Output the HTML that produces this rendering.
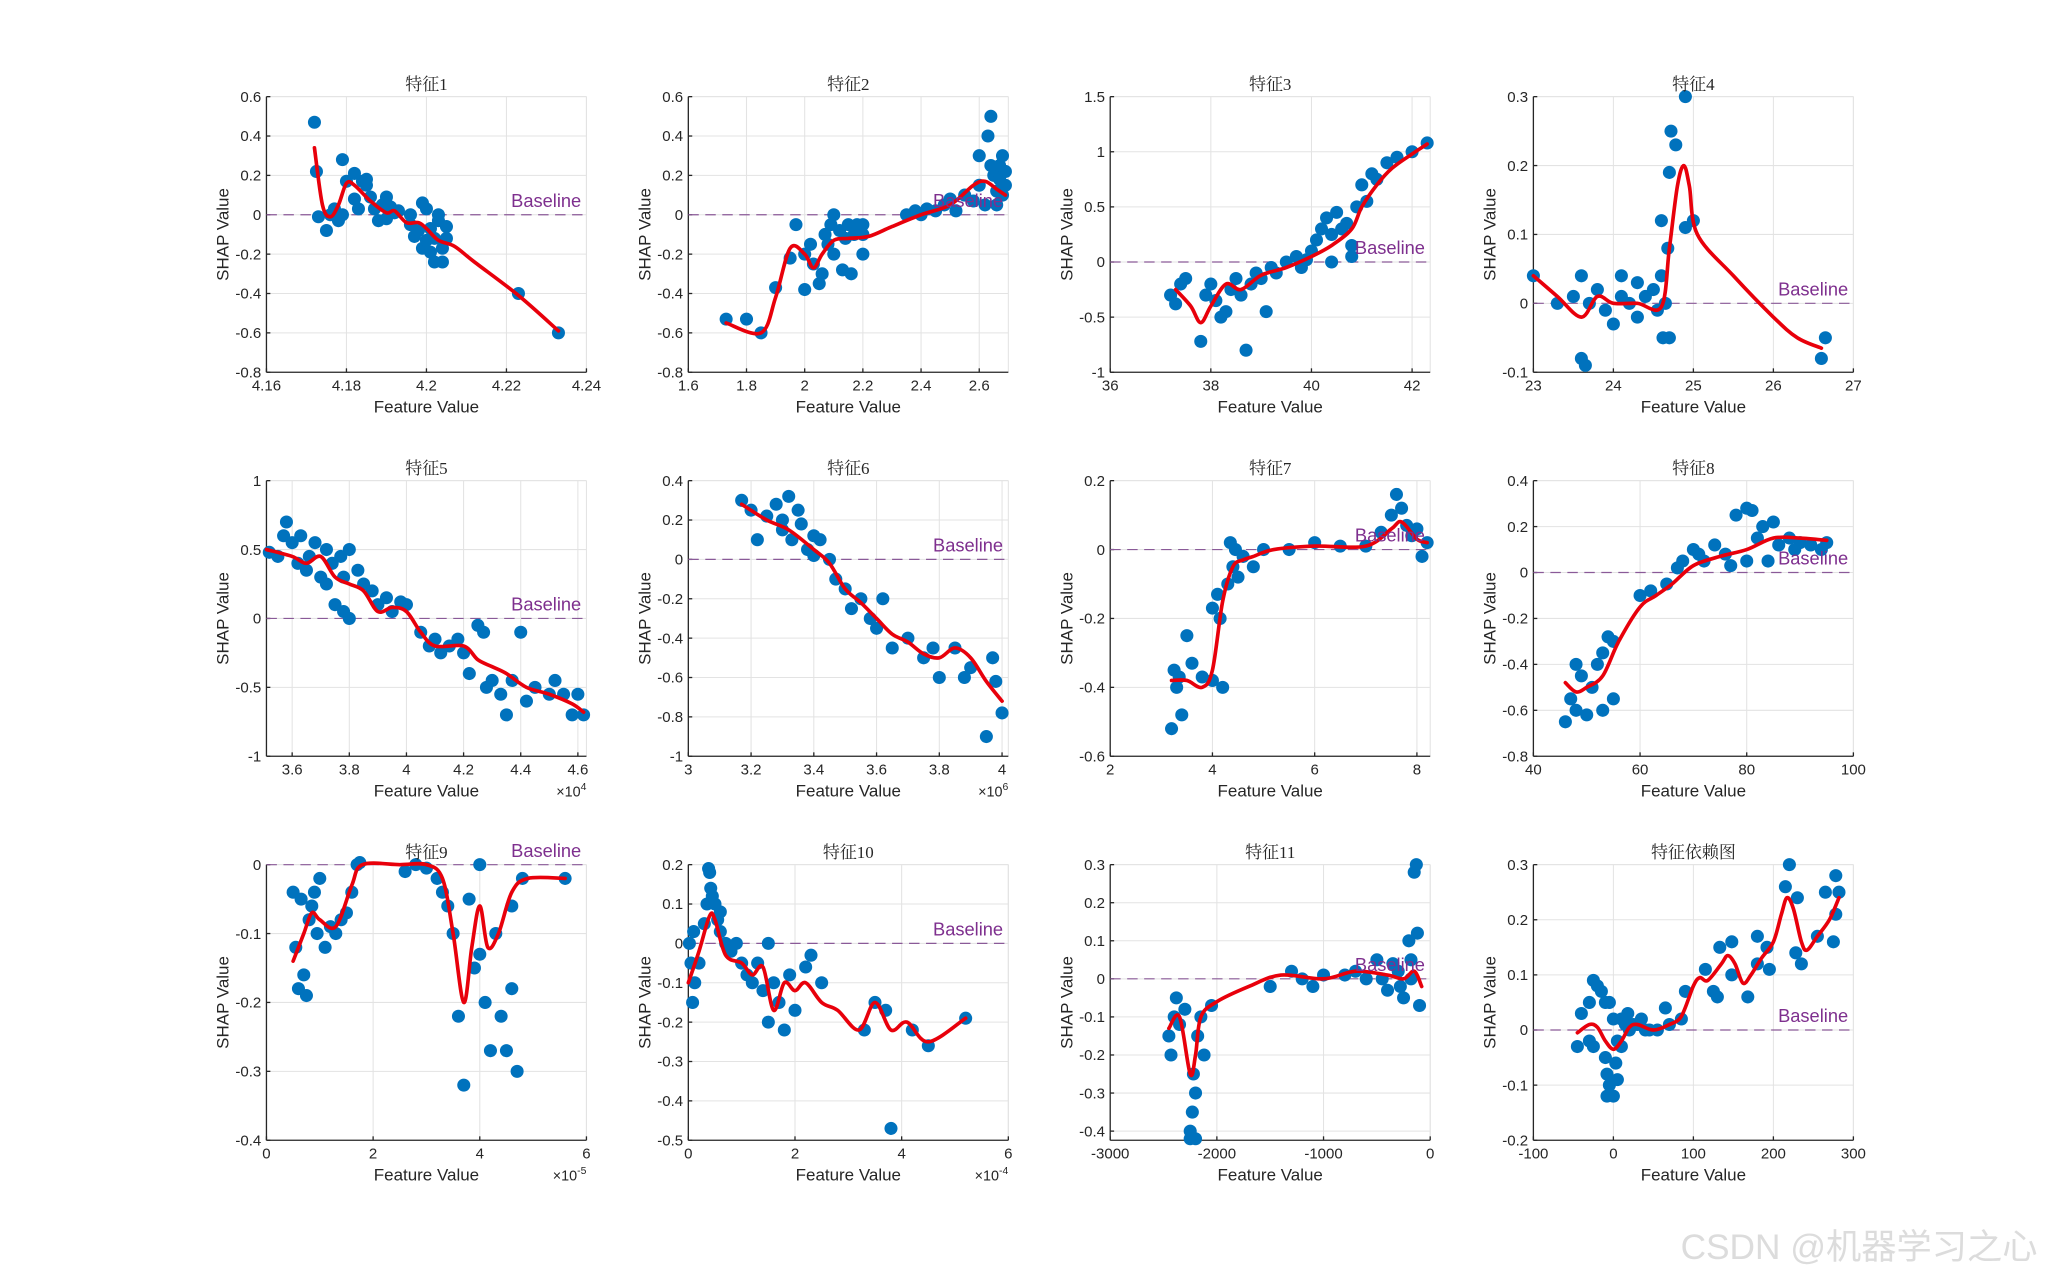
<!DOCTYPE html>
<html><head><meta charset="utf-8"><style>
html,body{margin:0;padding:0;background:#fff;}
svg{display:block;}
</style></head><body>
<svg id="fig" width="2048" height="1280" viewBox="0 0 1568 980" xmlns="http://www.w3.org/2000/svg" font-family="'Liberation Sans', 'Noto Sans CJK SC', sans-serif">
<rect width="1568" height="980" fill="#fff"/>
<text x="1560" y="964" text-anchor="end" font-size="27" fill="#dcdcdc" font-family="'Liberation Sans','Noto Sans CJK SC',sans-serif">CSDN @机器学习之心</text>
</svg>
<script>
// ---- data ----
const titles=["特征1","特征2","特征3","特征4","特征5","特征6","特征7","特征8","特征9","特征10","特征11","特征依赖图"];
const p1Points=[[4.172,0.47],[4.1725,0.22],[4.173,-0.01],[4.175,-0.08],[4.176,0.0],[4.177,0.03],[4.178,-0.03],[4.179,0.0],[4.179,0.28],[4.18,0.17],[4.182,0.21],[4.182,0.08],[4.183,0.03],[4.184,0.17],[4.185,0.18],[4.185,0.15],[4.186,0.09],[4.187,0.03],[4.188,-0.03],[4.189,0.05],[4.19,0.09],[4.19,-0.02],[4.191,0.04],[4.192,0.01],[4.193,0.02],[4.196,0.0],[4.196,-0.05],[4.197,-0.11],[4.198,-0.08],[4.199,0.06],[4.199,-0.17],[4.2,0.03],[4.2,-0.13],[4.201,-0.07],[4.201,-0.19],[4.202,-0.24],[4.202,-0.12],[4.203,-0.03],[4.203,0.0],[4.204,-0.17],[4.204,-0.24],[4.205,-0.06],[4.205,-0.12],[4.223,-0.4],[4.233,-0.6]];
const p1Curve=[[4.172,0.34],[4.174,0.05],[4.176,-0.01],[4.178,0.05],[4.18,0.16],[4.182,0.15],[4.186,0.07],[4.19,0.01],[4.192,0.02],[4.195,-0.04],[4.198,-0.04],[4.2,-0.07],[4.203,-0.13],[4.207,-0.16],[4.212,-0.24],[4.223,-0.41],[4.233,-0.59]];
const p2Points=[[1.73,-0.53],[1.8,-0.53],[1.85,-0.6],[1.9,-0.37],[1.95,-0.22],[1.97,-0.05],[2.0,-0.38],[2.0,-0.2],[2.02,-0.15],[2.03,-0.25],[2.05,-0.35],[2.06,-0.3],[2.07,-0.1],[2.08,-0.15],[2.09,-0.05],[2.1,-0.2],[2.1,0.0],[2.12,-0.08],[2.13,-0.28],[2.14,-0.12],[2.15,-0.05],[2.16,-0.3],[2.17,-0.1],[2.18,-0.05],[2.2,-0.1],[2.2,-0.2],[2.2,-0.05],[2.35,0.0],[2.38,0.02],[2.4,0.0],[2.42,0.03],[2.45,0.02],[2.48,0.05],[2.5,0.08],[2.52,0.02],[2.55,0.1],[2.58,0.07],[2.6,0.3],[2.6,0.15],[2.62,0.05],[2.63,0.4],[2.64,0.5],[2.65,0.2],[2.66,0.12],[2.67,0.25],[2.67,0.18],[2.68,0.1],[2.68,0.3],[2.69,0.22],[2.69,0.15],[2.66,0.05],[2.64,0.25]];
const p2Curve=[[1.73,-0.55],[1.85,-0.6],[1.9,-0.42],[1.95,-0.17],[2.0,-0.2],[2.03,-0.27],[2.06,-0.2],[2.1,-0.13],[2.15,-0.12],[2.22,-0.11],[2.3,-0.06],[2.4,0.0],[2.5,0.05],[2.58,0.15],[2.62,0.17],[2.66,0.13],[2.69,0.1]];
const p3Points=[[37.2,-0.3],[37.3,-0.38],[37.4,-0.2],[37.5,-0.15],[37.8,-0.72],[37.9,-0.3],[38.0,-0.2],[38.1,-0.35],[38.2,-0.5],[38.3,-0.45],[38.4,-0.25],[38.5,-0.15],[38.6,-0.3],[38.7,-0.8],[38.8,-0.2],[38.9,-0.1],[39.0,-0.15],[39.1,-0.45],[39.2,-0.05],[39.3,-0.1],[39.5,0.0],[39.7,0.05],[39.9,0.02],[40.0,0.1],[40.1,0.2],[40.2,0.3],[40.3,0.4],[40.4,0.25],[40.5,0.45],[40.6,0.3],[40.7,0.35],[40.8,0.15],[40.9,0.5],[41.0,0.7],[41.1,0.55],[41.2,0.8],[41.3,0.75],[41.5,0.9],[41.7,0.95],[42.0,1.0],[42.3,1.08],[40.4,0.0],[40.8,0.05],[39.8,-0.05]];
const p3Curve=[[37.3,-0.25],[37.6,-0.4],[37.8,-0.55],[38.0,-0.4],[38.3,-0.2],[38.6,-0.25],[39.0,-0.12],[39.5,-0.05],[40.0,0.05],[40.4,0.15],[40.8,0.3],[41.0,0.5],[41.3,0.7],[41.6,0.85],[42.0,0.98],[42.3,1.07]];
const p4Points=[[23.0,0.04],[23.3,0.0],[23.5,0.01],[23.6,-0.08],[23.65,-0.09],[23.6,0.04],[23.7,0.0],[23.8,0.02],[23.9,-0.01],[24.0,-0.03],[24.1,0.01],[24.2,0.0],[24.3,-0.02],[24.4,0.01],[24.5,0.02],[24.55,-0.01],[24.6,0.04],[24.62,-0.05],[24.65,0.0],[24.7,-0.05],[24.68,0.08],[24.7,0.19],[24.72,0.25],[24.78,0.23],[24.9,0.3],[24.9,0.11],[25.0,0.12],[24.6,0.12],[24.3,0.03],[24.1,0.04],[26.6,-0.08],[26.65,-0.05]];
const p4Curve=[[23.0,0.04],[23.3,0.01],[23.6,-0.02],[23.8,0.01],[24.0,0.0],[24.3,0.0],[24.6,-0.005],[24.7,0.08],[24.8,0.17],[24.88,0.2],[24.95,0.17],[25.05,0.1],[25.5,0.04],[26.0,-0.02],[26.3,-0.05],[26.6,-0.065]];
const p5Points=[[3.52,0.48],[3.55,0.45],[3.57,0.6],[3.58,0.7],[3.6,0.55],[3.62,0.4],[3.63,0.6],[3.65,0.35],[3.66,0.45],[3.68,0.55],[3.7,0.3],[3.72,0.5],[3.74,0.4],[3.75,0.1],[3.77,0.45],[3.78,0.3],[3.8,0.5],[3.8,0.0],[3.83,0.35],[3.85,0.25],[3.88,0.2],[3.9,0.1],[3.93,0.15],[3.95,0.05],[3.98,0.12],[4.0,0.1],[4.05,-0.1],[4.08,-0.2],[4.1,-0.15],[4.12,-0.25],[4.15,-0.2],[4.18,-0.15],[4.2,-0.25],[4.22,-0.4],[4.25,-0.05],[4.27,-0.1],[4.28,-0.5],[4.3,-0.45],[4.33,-0.55],[4.35,-0.7],[4.37,-0.45],[4.4,-0.1],[4.42,-0.6],[4.45,-0.5],[4.5,-0.55],[4.52,-0.45],[4.55,-0.55],[4.58,-0.7],[4.6,-0.55],[4.62,-0.7],[3.72,0.25],[3.78,0.05]];
const p5Curve=[[3.51,0.5],[3.6,0.45],[3.65,0.4],[3.7,0.45],[3.75,0.3],[3.8,0.25],[3.85,0.2],[3.9,0.05],[3.95,0.08],[4.0,0.05],[4.05,-0.1],[4.1,-0.2],[4.2,-0.2],[4.25,-0.3],[4.3,-0.35],[4.35,-0.4],[4.42,-0.5],[4.5,-0.55],[4.58,-0.62],[4.62,-0.68]];
const p6Points=[[3.17,0.3],[3.2,0.25],[3.22,0.1],[3.25,0.22],[3.28,0.28],[3.3,0.2],[3.3,0.15],[3.32,0.32],[3.33,0.1],[3.35,0.25],[3.36,0.18],[3.38,0.05],[3.4,0.12],[3.4,0.02],[3.42,0.1],[3.45,0.0],[3.47,-0.1],[3.5,-0.15],[3.52,-0.25],[3.55,-0.2],[3.58,-0.3],[3.6,-0.35],[3.62,-0.2],[3.65,-0.45],[3.7,-0.4],[3.75,-0.5],[3.78,-0.45],[3.8,-0.6],[3.85,-0.45],[3.88,-0.6],[3.9,-0.55],[3.95,-0.9],[3.97,-0.5],[3.98,-0.62],[4.0,-0.78]];
const p6Curve=[[3.17,0.28],[3.25,0.2],[3.32,0.15],[3.4,0.05],[3.45,-0.02],[3.5,-0.15],[3.55,-0.22],[3.6,-0.3],[3.65,-0.38],[3.7,-0.42],[3.75,-0.48],[3.8,-0.5],[3.85,-0.45],[3.9,-0.5],[3.95,-0.62],[4.0,-0.72]];
const p7Points=[[3.2,-0.52],[3.25,-0.35],[3.3,-0.4],[3.35,-0.37],[3.4,-0.48],[3.5,-0.25],[3.6,-0.33],[3.8,-0.37],[4.0,-0.38],[4.0,-0.17],[4.1,-0.13],[4.15,-0.2],[4.2,-0.4],[4.3,-0.1],[4.35,0.02],[4.4,-0.05],[4.45,0.0],[4.5,-0.08],[4.6,-0.02],[5.0,0.0],[5.5,0.0],[6.0,0.02],[6.5,0.01],[7.0,0.01],[7.3,0.05],[7.5,0.1],[7.6,0.16],[7.7,0.12],[7.8,0.07],[7.9,0.04],[8.0,0.06],[8.1,-0.02],[8.2,0.02],[4.8,-0.05]];
const p7Curve=[[3.2,-0.38],[3.5,-0.38],[3.8,-0.4],[4.0,-0.35],[4.2,-0.15],[4.4,-0.05],[4.6,-0.03],[4.8,-0.02],[5.2,0.0],[6.0,0.01],[7.0,0.01],[7.5,0.06],[7.7,0.08],[8.0,0.03],[8.2,0.02]];
const p8Points=[[46,-0.65],[47,-0.55],[48,-0.4],[48,-0.6],[49,-0.45],[50,-0.62],[51,-0.5],[52,-0.4],[53,-0.35],[53,-0.6],[54,-0.28],[55,-0.3],[55,-0.55],[60,-0.1],[62,-0.08],[65,-0.05],[67,0.02],[68,0.05],[70,0.1],[72,0.05],[74,0.12],[76,0.08],[78,0.25],[80,0.28],[80,0.05],[82,0.15],[83,0.2],[85,0.22],[86,0.12],[88,0.15],[90,0.13],[92,0.12],[94,0.1],[95,0.13],[71,0.08],[77,0.03],[84,0.05],[81,0.27],[89,0.1]];
const p8Curve=[[46,-0.48],[48,-0.52],[50,-0.5],[53,-0.45],[56,-0.3],[60,-0.15],[63,-0.1],[66,-0.05],[70,0.03],[75,0.07],[80,0.1],[85,0.15],[90,0.15],[95,0.14]];
const p9Points=[[0.5,-0.04],[0.55,-0.12],[0.6,-0.18],[0.65,-0.05],[0.7,-0.16],[0.75,-0.19],[0.8,-0.08],[0.85,-0.06],[0.9,-0.04],[0.95,-0.1],[1.0,-0.02],[1.1,-0.12],[1.2,-0.09],[1.3,-0.1],[1.4,-0.08],[1.5,-0.07],[1.6,-0.04],[1.7,0.0],[1.75,0.003],[2.6,-0.01],[2.8,0.0],[3.0,-0.005],[3.2,-0.02],[3.3,-0.04],[3.4,-0.06],[3.5,-0.1],[3.6,-0.22],[3.7,-0.32],[3.8,-0.05],[3.9,-0.15],[4.0,0.0],[4.0,-0.13],[4.1,-0.2],[4.2,-0.27],[4.3,-0.1],[4.4,-0.22],[4.5,-0.27],[4.6,-0.18],[4.7,-0.3],[4.6,-0.06],[4.8,-0.02],[5.6,-0.02]];
const p9Curve=[[0.5,-0.14],[0.7,-0.1],[0.85,-0.07],[1.0,-0.08],[1.3,-0.09],[1.6,-0.03],[1.8,0.0],[2.5,0.0],[3.0,0.0],[3.3,-0.02],[3.5,-0.1],[3.7,-0.2],[3.85,-0.12],[4.0,-0.06],[4.15,-0.12],[4.35,-0.1],[4.6,-0.04],[4.9,-0.02],[5.6,-0.02]];
const p10Points=[[0.02,0.0],[0.05,-0.05],[0.08,-0.15],[0.1,0.03],[0.12,-0.1],[0.2,-0.05],[0.3,0.05],[0.35,0.1],[0.4,0.18],[0.42,0.14],[0.45,0.12],[0.5,0.1],[0.55,0.06],[0.6,0.03],[0.7,0.0],[0.8,-0.02],[0.9,0.0],[1.0,-0.05],[1.1,-0.08],[1.2,-0.1],[1.3,-0.05],[1.4,-0.12],[1.5,-0.2],[1.5,0.0],[1.6,-0.1],[1.7,-0.15],[1.8,-0.22],[1.9,-0.08],[2.0,-0.17],[2.2,-0.06],[2.3,-0.03],[2.5,-0.1],[3.3,-0.22],[3.5,-0.15],[3.7,-0.17],[3.8,-0.47],[4.2,-0.22],[4.5,-0.26],[5.2,-0.19],[0.38,0.19],[0.6,0.08]];
const p10Curve=[[0.0,-0.1],[0.2,-0.02],[0.4,0.07],[0.5,0.06],[0.7,-0.03],[1.0,-0.05],[1.2,-0.08],[1.4,-0.06],[1.6,-0.17],[1.8,-0.1],[2.0,-0.12],[2.2,-0.1],[2.5,-0.15],[2.8,-0.17],[3.2,-0.22],[3.5,-0.15],[3.8,-0.22],[4.1,-0.2],[4.5,-0.25],[5.2,-0.19]];
const p11Points=[[-2450,-0.15],[-2430,-0.2],[-2400,-0.1],[-2380,-0.05],[-2350,-0.12],[-2300,-0.08],[-2250,-0.4],[-2230,-0.35],[-2220,-0.25],[-2200,-0.3],[-2200,-0.42],[-2180,-0.15],[-2150,-0.1],[-2050,-0.07],[-1500,-0.02],[-1300,0.02],[-1000,0.01],[-500,0.05],[-400,-0.03],[-300,0.02],[-250,-0.05],[-200,0.1],[-180,0.0],[-150,0.28],[-120,0.12],[-100,-0.07],[-130,0.3],[-180,0.05],[-280,-0.02],[-350,0.04],[-450,0.0],[-600,0.0],[-700,0.02],[-800,0.01],[-1100,-0.02],[-1200,0.0],[-2250,-0.42],[-2120,-0.2]];
const p11Curve=[[-2450,-0.13],[-2350,-0.1],[-2250,-0.25],[-2200,-0.2],[-2150,-0.1],[-2000,-0.06],[-1700,-0.02],[-1400,0.01],[-1000,0.0],[-700,0.02],[-400,0.01],[-250,0.0],[-150,0.02],[-80,-0.02]];
const p12Points=[[-45,-0.03],[-40,0.03],[-30,0.05],[-25,0.09],[-20,0.08],[-15,0.07],[-10,0.05],[-5,0.05],[-30,-0.02],[-25,-0.03],[-10,-0.05],[-8,-0.08],[-5,-0.1],[-8,-0.12],[0,-0.12],[5,-0.09],[3,-0.06],[5,-0.02],[0,0.02],[10,0.02],[15,0.01],[18,0.03],[20,0.0],[25,0.01],[30,0.01],[35,0.02],[40,0.0],[45,0.0],[55,0.0],[65,0.04],[70,0.01],[85,0.02],[90,0.07],[115,0.11],[125,0.07],[130,0.06],[133,0.15],[148,0.16],[148,0.1],[168,0.06],[180,0.12],[180,0.17],[192,0.15],[195,0.11],[215,0.26],[220,0.3],[230,0.24],[228,0.14],[235,0.12],[255,0.17],[265,0.25],[275,0.16],[278,0.21],[278,0.28],[282,0.25],[10,-0.03]];
const p12Curve=[[-45,-0.005],[-30,0.01],[-20,0.005],[-10,-0.02],[0,-0.035],[10,-0.02],[20,0.005],[30,0.01],[50,0.0],[70,0.01],[85,0.025],[100,0.08],[108,0.095],[118,0.09],[135,0.12],[143,0.135],[152,0.12],[162,0.085],[172,0.1],[185,0.13],[200,0.16],[210,0.21],[217,0.24],[225,0.22],[235,0.16],[242,0.145],[255,0.17],[270,0.2],[282,0.24]];
const xRanges=[[4.16,4.24],[1.6,2.7],[36,42.36],[23,27],[3.51,4.63],[3,4.02],[2,8.26],[40,100],[0,6],[0,6],[-3000,0],[-100,300]];
const yRanges=[[-0.8,0.6],[-0.8,0.6],[-1,1.5],[-0.1,0.3],[-1,1],[-1,0.4],[-0.6,0.2],[-0.8,0.4],[-0.4,0],[-0.5,0.2],[-0.424,0.3],[-0.2,0.3]];
const xTicks=[[4.16,4.18,4.2,4.22,4.24],[1.6,1.8,2,2.2,2.4,2.6],[36,38,40,42],[23,24,25,26,27],[3.6,3.8,4,4.2,4.4,4.6],[3,3.2,3.4,3.6,3.8,4],[2,4,6,8],[40,60,80,100],[0,2,4,6],[0,2,4,6],[-3000,-2000,-1000,0],[-100,0,100,200,300]];
const yTicks=[[-0.8,-0.6,-0.4,-0.2,0,0.2,0.4,0.6],[-0.8,-0.6,-0.4,-0.2,0,0.2,0.4,0.6],[-1,-0.5,0,0.5,1,1.5],[-0.1,0,0.1,0.2,0.3],[-1,-0.5,0,0.5,1],[-1,-0.8,-0.6,-0.4,-0.2,0,0.2,0.4],[-0.6,-0.4,-0.2,0,0.2],[-0.8,-0.6,-0.4,-0.2,0,0.2,0.4],[-0.4,-0.3,-0.2,-0.1,0],[-0.5,-0.4,-0.3,-0.2,-0.1,0,0.1,0.2],[-0.4,-0.3,-0.2,-0.1,0,0.1,0.2,0.3],[-0.2,-0.1,0,0.1,0.2,0.3]];
const exponents=["","","","","4","6","","","-5","-4","",""];
const allPoints=[p1Points,p2Points,p3Points,p4Points,p5Points,p6Points,p7Points,p8Points,p9Points,p10Points,p11Points,p12Points];
const allCurves=[p1Curve,p2Curve,p3Curve,p4Curve,p5Curve,p6Curve,p7Curve,p8Curve,p9Curve,p10Curve,p11Curve,p12Curve];

// ---- drawing ----
const NS="http://www.w3.org/2000/svg";
const svg=document.getElementById('fig');
const colsX=[204,527,850,1174], rowsY=[74,368,662], PW=245, PH=211;
function mk(tag,attrs,parent){const e=document.createElementNS(NS,tag);for(const k in attrs)e.setAttribute(k,attrs[k]);(parent||svg).appendChild(e);return e;}
function fmt(v){return String(+v.toFixed(4));}
function spline(pts){
  if(pts.length<2)return "";
  let d="M"+pts[0][0].toFixed(2)+","+pts[0][1].toFixed(2);
  for(let i=0;i<pts.length-1;i++){
    const p0=pts[Math.max(0,i-1)],p1=pts[i],p2=pts[i+1],p3=pts[Math.min(pts.length-1,i+2)];
    const c1x=p1[0]+(p2[0]-p0[0])/6,c1y=p1[1]+(p2[1]-p0[1])/6;
    const c2x=p2[0]-(p3[0]-p1[0])/6,c2y=p2[1]-(p3[1]-p1[1])/6;
    d+=" C"+c1x.toFixed(2)+","+c1y.toFixed(2)+" "+c2x.toFixed(2)+","+c2y.toFixed(2)+" "+p2[0].toFixed(2)+","+p2[1].toFixed(2);
  }
  return d;
}
for(let i=0;i<12;i++){
  const L=colsX[i%4],T=rowsY[Math.floor(i/4)],R=L+PW,B=T+PH;
  const [x0,x1]=xRanges[i],[y0,y1]=yRanges[i];
  const sx=v=>L+(v-x0)/(x1-x0)*PW, sy=v=>B-(v-y0)/(y1-y0)*PH;
  const g=mk('g',{});
  
  
  const grid=mk('g',{stroke:'#e3e3e3','stroke-width':'0.8'},g);
  
  
  xTicks[i].forEach(v=>{const x=sx(v);mk('line',{x1:x,x2:x,y1:T,y2:B},grid);});
  yTicks[i].forEach(v=>{const y=sy(v);mk('line',{x1:L,x2:R,y1:y,y2:y},grid);});
  mk('line',{x1:L,x2:R,y1:T,y2:T},grid);mk('line',{x1:R,x2:R,y1:T,y2:B},grid);
  const ax=mk('g',{stroke:'#262626','stroke-width':'1'},g);
  
  
  mk('line',{x1:L,x2:L,y1:T,y2:B},ax);mk('line',{x1:L,x2:R,y1:B,y2:B},ax);
  xTicks[i].forEach(v=>{const x=sx(v);mk('line',{x1:x,x2:x,y1:B,y2:B-3},ax);});
  yTicks[i].forEach(v=>{const y=sy(v);mk('line',{x1:L,x2:L+3,y1:y,y2:y},ax);});
  xTicks[i].forEach(v=>{const t=mk('text',{x:sx(v),y:B+14,'text-anchor':'middle','font-size':'11.5',fill:'#262626'},g);t.textContent=fmt(v);
    
    });
  yTicks[i].forEach(v=>{const t=mk('text',{x:L-4,y:sy(v)+4,'text-anchor':'end','font-size':'11.5',fill:'#262626'},g);t.textContent=fmt(v);
    
    });
  const by=sy(0);
  const bl=mk('line',{x1:L,x2:R,y1:by,y2:by,stroke:'#8a5a98','stroke-width':'0.9','stroke-dasharray':'8,5'},g);
  
  
  allPoints[i].forEach(p=>{const c=mk('circle',{cx:sx(p[0]),cy:sy(p[1]),r:'5',fill:'#0072bd'},g);
    
    });
  const cp=mk('path',{d:spline(allCurves[i].map(p=>[sx(p[0]),sy(p[1])])),fill:'none',stroke:'#e8000b','stroke-width':'2.8','stroke-linejoin':'round','stroke-linecap':'round'},g);
  
  
  const btx=mk('text',{x:R-4,y:by-6,'text-anchor':'end','font-size':'14',fill:'#7e2f8e'},g);btx.textContent='Baseline';
  
  
  const tt=mk('text',{x:L+PW/2,y:T-5,'text-anchor':'middle','font-size':'13',fill:'#262626','font-family':"'Liberation Serif','Noto Serif CJK SC',serif"},g);tt.textContent=titles[i];
  
  
  const xl=mk('text',{x:L+PW/2,y:B+31,'text-anchor':'middle','font-size':'13',fill:'#262626'},g);xl.textContent='Feature Value';
  
  
  const yl=mk('text',{x:0,y:0,'text-anchor':'middle','font-size':'13',fill:'#262626',transform:'translate('+(L-29)+','+(T+PH/2)+') rotate(-90)'},g);yl.textContent='SHAP Value';
  
  
  if(exponents[i]){
    const ex=mk('text',{x:R,y:B+31,'text-anchor':'end','font-size':'11',fill:'#262626'},g);
    
    
    const a=mk('tspan',{},ex);a.textContent='×10';
    const b=mk('tspan',{dy:'-5','font-size':'8'},ex);b.textContent=exponents[i];
  }
}
</script>
</body></html>
